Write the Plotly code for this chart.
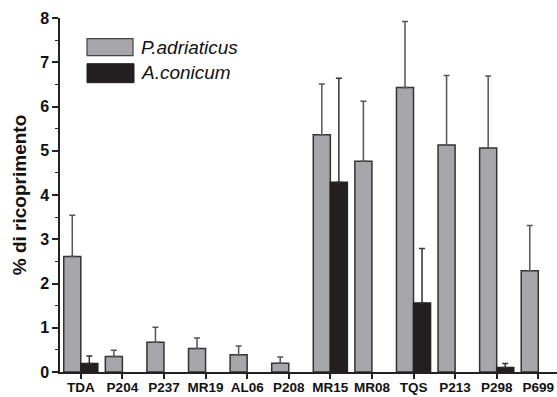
import plotly.graph_objects as go

categories = ["TDA", "P204", "P237", "MR19", "AL06", "P208", "MR15", "MR08", "TQS", "P213", "P298", "P699"]
p_adriaticus = [2.61, 0.35, 0.67, 0.53, 0.39, 0.20, 5.36, 4.76, 6.43, 5.13, 5.06, 2.29]
p_adriaticus_err = [0.93, 0.14, 0.34, 0.24, 0.20, 0.14, 1.15, 1.36, 1.49, 1.57, 1.63, 1.02]
a_conicum = [0.19, None, None, None, None, None, 4.29, None, 1.56, None, 0.10, None]
a_conicum_err = [0.17, None, None, None, None, None, 2.35, None, 1.23, None, 0.09, None]
series_names = ["P.adriaticus", "A.conicum"]

FONT = "Liberation Sans, Arial, sans-serif"
GRAY = "#a7a7ab"
DARK = "#231f20"

fig = go.Figure()
fig.add_trace(go.Bar(
    x=categories, y=p_adriaticus, name=series_names[0],
    marker=dict(color=GRAY, line=dict(color="#333333", width=1.5)),
    error_y=dict(type="data", symmetric=False, array=p_adriaticus_err,
                 arrayminus=[0] * len(categories), color="#555555", thickness=1.5, width=3),
))
fig.add_trace(go.Bar(
    x=categories, y=a_conicum, name=series_names[1],
    marker=dict(color=DARK, line=dict(color="#222222", width=1.5)),
    error_y=dict(type="data", symmetric=False, array=a_conicum_err,
                 arrayminus=[0] * len(categories), color="#333333", thickness=1.5, width=3),
))

L, R, T, B = 60, 557, 18.3, 372.3  # plot area in page pixels
def px(x):
    return (x - L) / (R - L)
def py(y):
    return (B - y) / (B - T)

fig.add_shape(type="rect", xref="paper", yref="paper", x0=px(87), x1=px(133), y0=py(56), y1=py(39),
              fillcolor=GRAY, line=dict(color="#444444", width=1.2))
fig.add_shape(type="rect", xref="paper", yref="paper", x0=px(87), x1=px(134), y0=py(83), y1=py(64),
              fillcolor=DARK, line=dict(color=DARK, width=1))
for name, yc in zip(series_names, [48, 73]):
    fig.add_annotation(xref="paper", yref="paper", x=px(139), y=py(yc), text=name,
                       showarrow=False, xanchor="left", yanchor="middle",
                       font=dict(family=FONT, size=19, color="#111111", style="italic"))

W, H = 557, 397
fig.update_layout(
    width=W, height=H,
    margin=dict(l=L, r=W - R, t=T, b=H - B, autoexpand=False),
    paper_bgcolor="white", plot_bgcolor="white",
    barmode="group", bargap=0.18, bargroupgap=0,
    showlegend=False,
    font=dict(family=FONT, color="#111111"),
)
fig.update_xaxes(
    range=[-0.5, 11.45], showline=True, linecolor="#222222", linewidth=1.5,
    ticks="outside", ticklen=5, tickwidth=1.5, tickcolor="#222222",
    ticklabelstandoff=-3, ticklabeloverflow="allow",
    tickfont=dict(family=FONT, size=13.5, weight="bold", color="#111111"),
    showgrid=False, zeroline=False,
)
fig.update_yaxes(
    range=[0, 8], dtick=1, showline=True, linecolor="#222222", linewidth=1.5,
    ticks="outside", ticklen=6, tickwidth=1.5, tickcolor="#222222",
    minor=dict(dtick=0.5, ticks="outside", ticklen=3, tickwidth=1.2, tickcolor="#222222"),
    tickfont=dict(family=FONT, size=16, weight="bold", color="#111111"),
    title=dict(text="% di ricoprimento", standoff=8,
               font=dict(family=FONT, size=19, weight="bold", color="#111111")),
    showgrid=False, zeroline=False,
)

fig.write_html("out.html", config={"displayModeBar": False},
               post_script="document.body.style.margin='0';document.body.style.overflow='hidden';")
